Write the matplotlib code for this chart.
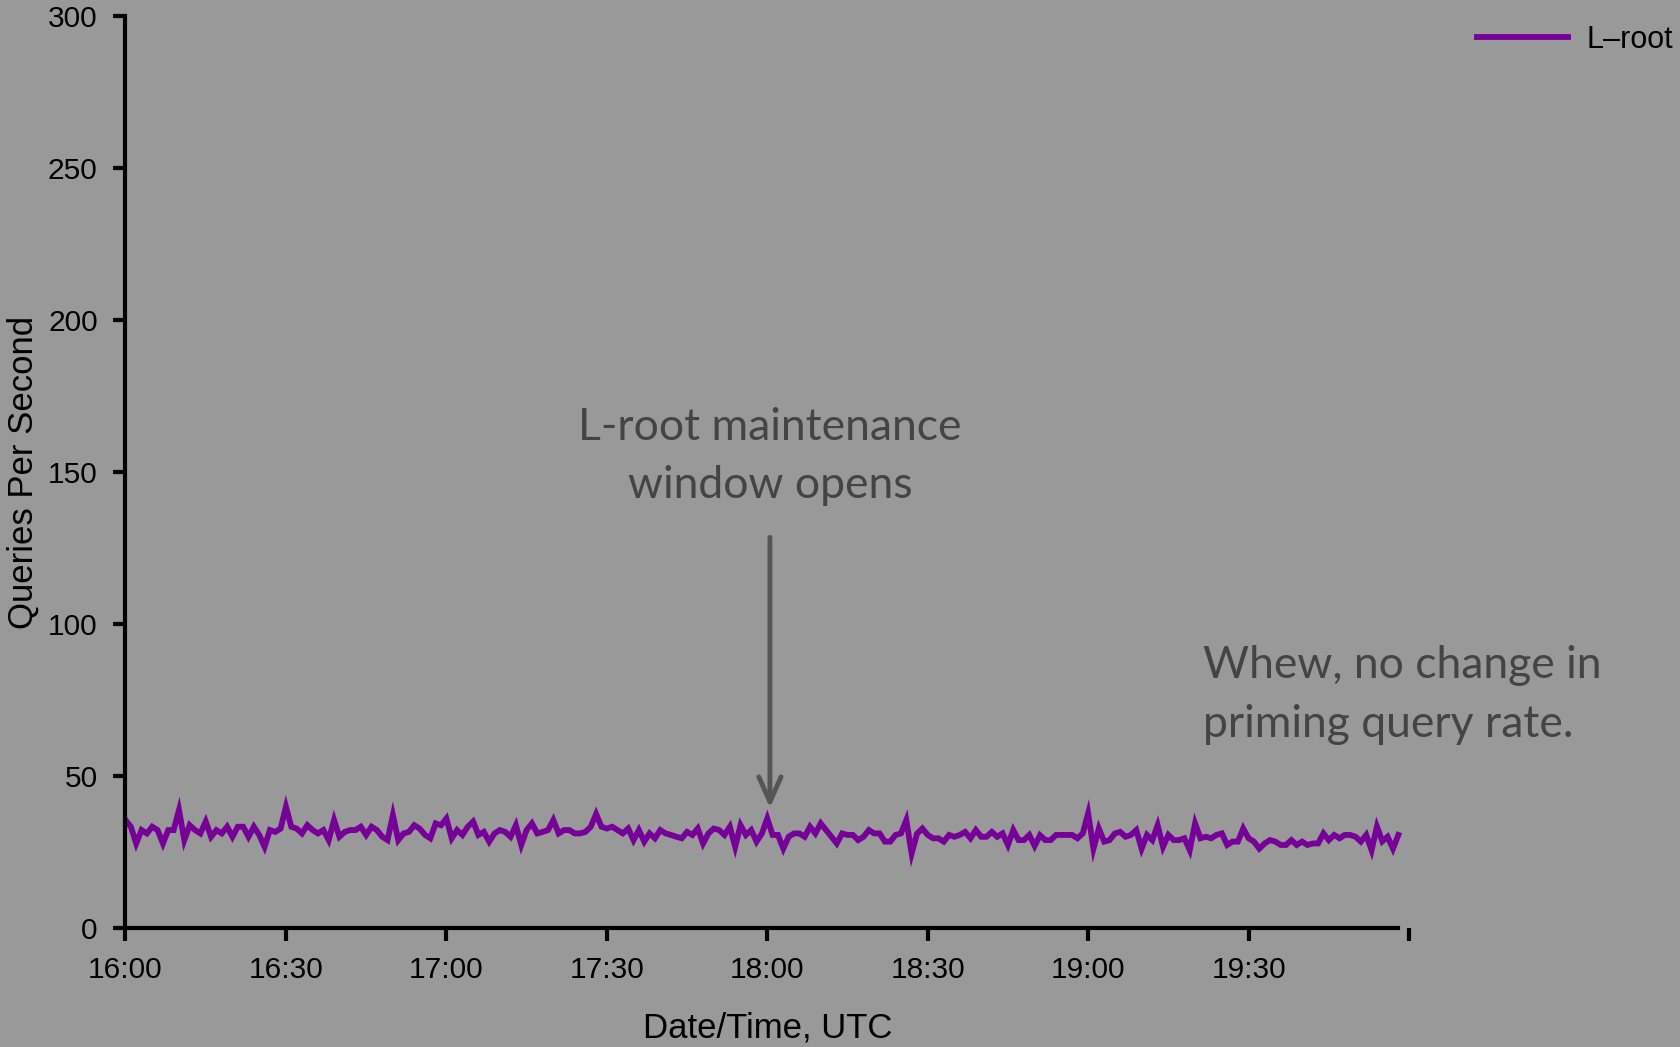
import numpy as np
import matplotlib
matplotlib.use("Agg")
import matplotlib.pyplot as plt

# L-root priming queries per second, one sample per minute from 16:00 UTC
qps = [35.5, 33.3, 27.8, 32.2, 31.1, 33.3, 32.2, 27.8, 32.2, 32.2,
       38.8, 28.9, 33.8, 32.2, 31.1, 35.0, 30.0, 32.2, 31.1, 33.3,
       30.0, 33.3, 33.3, 30.0, 33.3, 30.6, 26.7, 32.2, 31.6, 32.7,
       39.9, 33.3, 32.7, 31.1, 33.8, 32.2, 31.1, 32.2, 28.9, 35.5,
       30.0, 31.6, 32.2, 32.2, 33.3, 30.6, 33.3, 32.2, 30.0, 28.9,
       37.1, 28.9, 31.1, 31.6, 33.8, 32.7, 30.6, 29.5, 34.4, 33.8,
       36.0, 29.5, 32.2, 30.6, 33.3, 35.0, 30.6, 31.6, 28.4, 31.1,
       32.2, 31.6, 30.0, 33.8, 27.3, 32.2, 34.4, 31.1, 31.6, 32.2,
       35.5, 31.1, 32.2, 32.2, 31.1, 31.1, 31.6, 33.3, 37.5, 33.3,
       32.7, 33.3, 32.2, 31.1, 32.7, 28.9, 32.2, 28.4, 31.1, 29.5,
       32.2, 31.1, 30.6, 30.0, 29.5, 31.6, 30.6, 32.7, 27.8, 31.1,
       32.7, 32.2, 30.6, 33.3, 26.7, 33.8, 30.6, 32.2, 28.4, 31.1,
       36.0, 30.6, 30.6, 26.1, 30.0, 31.1, 31.1, 30.0, 33.3, 31.1,
       34.4, 32.2, 30.0, 27.8, 31.1, 30.6, 30.6, 28.9, 30.0, 32.2,
       31.1, 31.1, 28.4, 28.4, 30.6, 31.1, 35.5, 24.5, 31.0, 32.7,
       30.6, 29.5, 29.5, 28.4, 30.6, 30.0, 30.6, 31.6, 29.5, 32.2,
       30.0, 30.0, 31.6, 30.0, 31.1, 27.3, 32.2, 28.9, 28.9, 30.6,
       27.0, 30.5, 28.9, 28.9, 30.6, 30.6, 30.6, 30.6, 29.5, 31.1,
       37.7, 26.1, 32.7, 28.4, 28.9, 31.1, 31.6, 30.0, 30.6, 32.2,
       26.1, 30.6, 28.9, 33.8, 26.7, 30.6, 28.9, 28.9, 29.5, 25.6,
       34.4, 29.5, 30.0, 29.5, 30.6, 31.1, 27.3, 28.4, 28.4, 32.7,
       29.5, 28.4, 26.1, 27.8, 28.9, 28.4, 27.3, 27.3, 28.9, 27.3,
       28.4, 27.3, 27.8, 27.8, 31.1, 28.9, 30.6, 29.5, 30.6, 30.6,
       30.0, 28.4, 30.6, 25.6, 33.3, 28.5, 30.0, 26.1, 30.6]
minutes = np.arange(len(qps))

tick_pos = [0, 30, 60, 90, 120, 150, 180, 210, 240]
tick_lab = ["16:00", "16:30", "17:00", "17:30", "18:00", "18:30", "19:00", "19:30", ""]
ytick_pos = [0, 50, 100, 150, 200, 250, 300]

bg = "#999999"
purple = "#770099"
note_col = "#444444"

plt.rcParams["font.family"] = ["Liberation Sans", "DejaVu Sans"]

fig = plt.figure(figsize=(16.8, 10.47), dpi=100, facecolor=bg)
ax = fig.add_axes([0.0747, 0.1137, 0.7640, 0.8710])
ax.set_facecolor(bg)

ax.plot(minutes, qps, color=purple, lw=4.2, solid_joinstyle="miter", label="L\u2013root")

ax.set_xlim(0, 240)
ax.set_ylim(0, 300)
ax.set_xticks(tick_pos)
ax.set_xticklabels(tick_lab)
ax.set_yticks(ytick_pos)
ax.tick_params(axis="both", labelsize=21.5, width=3, length=9, direction="out", pad=11)

for s in ["top", "right"]:
    ax.spines[s].set_visible(False)
ax.spines["left"].set_linewidth(3)
ax.spines["bottom"].set_linewidth(3)
ax.spines["bottom"].set_bounds(0, minutes[-1])

ax.set_ylabel("Queries Per Second", fontsize=25, labelpad=6)
ax.set_xlabel("Date/Time, UTC", fontsize=25, labelpad=20)

# annotations
note = dict(fontsize=32, color=note_col, family="Lato", va="baseline")
ax.text(120.5, 160.5, "L-root maintenance", ha="center", **note)
ax.text(120.5, 141.4, "window opens", ha="center", **note)
ax.annotate("", xy=(120.5, 39.5), xytext=(120.5, 128.5),
            arrowprops=dict(arrowstyle="->, head_width=0.4, head_length=0.9",
                            lw=3.5, color="#555555", mutation_scale=20,
                            shrinkA=0, shrinkB=0))
ax.text(201.5, 82.2, "Whew, no change in", ha="left", **note)
ax.text(201.5, 62.8, "priming query rate.", ha="left", **note)

fig.legend(loc="center left", bbox_to_anchor=(1477 / 1680, 1 - 40 / 1047),
           frameon=False, fontsize=22, handlelength=2.97, handletextpad=0.62,
           borderpad=0, borderaxespad=0)

fig.savefig("out.png", dpi=100, facecolor=bg)
